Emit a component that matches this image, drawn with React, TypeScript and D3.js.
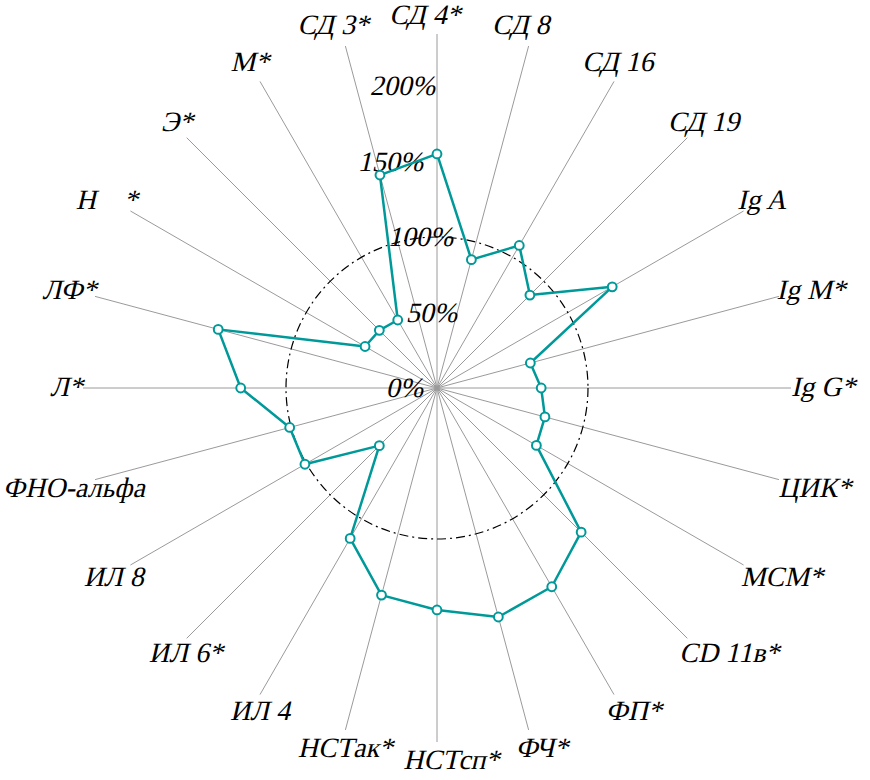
import React, { useEffect, useRef } from "react";
import * as d3 from "d3";

// axis categories, clockwise from the top
const CATEGORIES = [
  "СД 4*", "СД 8", "СД 16", "СД 19", "Ig A", "Ig M*", "Ig G*", "ЦИК*",
  "МСМ*", "CD 11в*", "ФП*", "ФЧ*", "НСТсп*", "НСТак*", "ИЛ 4", "ИЛ 6*",
  "ИЛ 8", "ФНО-альфа", "Л*", "ЛФ*", "Н    *", "Э*", "М*", "СД 3*",
];

// percent of the norm
const VALUES = [
  155, 88, 109, 87, 134, 64, 69, 74, 76, 135, 152, 157, 147, 142, 115, 54,
  101, 101, 130, 150, 55, 54, 52, 146,
];

const TICKS = [0, 50, 100, 150, 200];
const TICK_LABELS = ["0%", "50%", "100%", "150%", "200%"];
const NORM = 100;

// hand nudges for the tick labels (x offset of the right edge from the centre)
const TICK_NUDGE = [-14, 20, 16, -14, -2];

const W = 870;
const H = 780;
const CX = 437;
const CY = 388;
const SPOKE = 354;
const TEAL = "#009999";
// the serif italic face is not available, so the roman one is slanted
const FONT = "Liberation Serif";
const FONT_SIZE = 28;
const SLANT = -13;

export default function App() {
  const svgRef = useRef<SVGSVGElement>(null);

  useEffect(() => {
    document.body.style.margin = "0";
    if (!svgRef.current) return;
    const svg = d3.select(svgRef.current);
    svg.selectAll("*").remove();

    const r = d3.scaleLinear().domain([0, 100]).range([0, 151]);
    const angle = d3
      .scaleLinear()
      .domain([0, CATEGORIES.length])
      .range([0, 2 * Math.PI]);

    const g = svg.append("g").attr("transform", `translate(${CX},${CY})`);

    // spokes
    g.selectAll("line.spoke")
      .data(CATEGORIES)
      .enter()
      .append("line")
      .attr("class", "spoke")
      .attr("x1", 0)
      .attr("y1", 0)
      .attr("x2", (_, i) => SPOKE * Math.sin(angle(i)))
      .attr("y2", (_, i) => -SPOKE * Math.cos(angle(i)))
      .attr("stroke", "#9a9a9a")
      .attr("stroke-width", 1);

    // norm circle
    g.append("circle")
      .attr("r", r(NORM))
      .attr("fill", "none")
      .attr("stroke", "#000")
      .attr("stroke-width", 1.2)
      .attr("stroke-dasharray", "9,4,2,4");

    // tick labels
    g.selectAll("text.tick")
      .data(TICKS)
      .enter()
      .append("text")
      .attr("class", "tick")
      .attr(
        "transform",
        (d, i) => `translate(${TICK_NUDGE[i]},${-r(d) + 9}) skewX(${SLANT})`
      )
      .attr("text-anchor", "end")
      .attr("font-family", FONT)
      .attr("font-size", FONT_SIZE)
      .text((_, i) => TICK_LABELS[i]);

    // data polygon
    const line = d3
      .lineRadial<number>()
      .angle((_, i) => angle(i))
      .radius((d) => r(d))
      .curve(d3.curveLinearClosed);

    g.append("path")
      .datum(VALUES)
      .attr("d", line)
      .attr("fill", "none")
      .attr("stroke", TEAL)
      .attr("stroke-width", 2.5)
      .attr("stroke-linejoin", "round");

    g.selectAll("circle.pt")
      .data(VALUES)
      .enter()
      .append("circle")
      .attr("class", "pt")
      .attr("cx", (d, i) => r(d) * Math.sin(angle(i)))
      .attr("cy", (d, i) => -r(d) * Math.cos(angle(i)))
      .attr("r", 4.4)
      .attr("fill", "#fff")
      .attr("stroke", TEAL)
      .attr("stroke-width", 2);

    // category labels around the spoke ends
    const labels = svg
      .append("g")
      .selectAll("text")
      .data(CATEGORIES)
      .enter()
      .append("text")
      .attr("font-family", FONT)
      .attr("font-size", FONT_SIZE)
      .style("white-space", "pre")
      .text((d) => d);

    labels.each(function (_, i) {
      const el = this as SVGTextElement;
      const a = angle(i);
      const s = Math.sin(a);
      const c = Math.cos(a);
      const ex = CX + SPOKE * s;
      const ey = CY - SPOKE * c;
      const w = el.getComputedTextLength();
      // share of the label width that sits left of the spoke end
      let fx = 0.5 * (1 - s * Math.abs(s));
      if (c < -0.1 && s > 0.1) fx = 0.5 * (1 - Math.sqrt(s));
      if (c < -0.1 && s < -0.1)
        fx = 0.5 + 0.5 * Math.max(0, (Math.abs(s) - 0.7) / 0.3);
      if (c < -0.9 && Math.abs(s) < 0.1) fx = 0.35;
      let left = ex - fx * w - 12 * Math.pow(Math.max(0, c), 6);
      left = Math.max(3, Math.min(W - 3 - w, left));
      let base =
        c >= 0 ? ey + 8 - 21 * c : ey + 8 + 19 * Math.sqrt(Math.abs(c));
      base = Math.max(24, Math.min(H - 6, base));
      d3.select(el).attr(
        "transform",
        `translate(${left},${base}) skewX(${SLANT})`
      );
    });
  }, []);

  return <svg ref={svgRef} width={W} height={H} style={{ display: "block" }} />;
}
